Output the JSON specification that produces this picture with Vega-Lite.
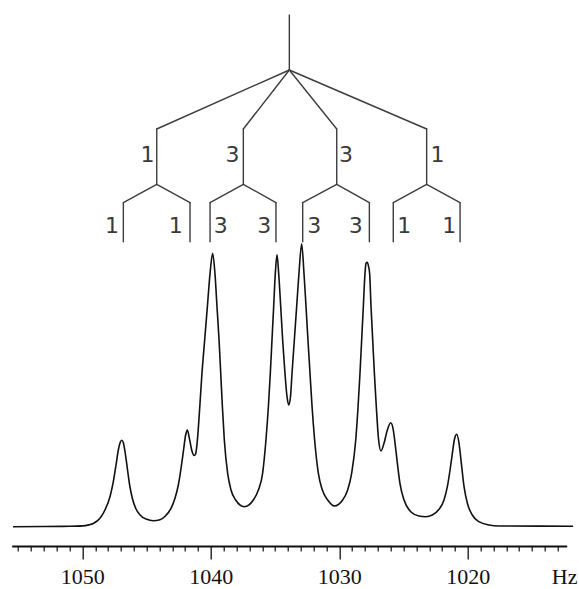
{
  "$schema": "https://vega.github.io/schema/vega-lite/v6.json",
  "width": 555,
  "height": 546,
  "autosize": {"type": "none"},
  "padding": {"left": 11.7, "top": 0, "right": 12.3, "bottom": 43},
  "background": "white",
  "config": {"view": {"stroke": null}},
  "datasets": {
    "spectrum": [
      {"hz": 1055.4, "i": 0}, {"hz": 1053, "i": 0.2}, {"hz": 1051, "i": 0.4}, {"hz": 1050, "i": 0.8},
      {"hz": 1049.5, "i": 1.8}, {"hz": 1049.15, "i": 3.2}, {"hz": 1048.63, "i": 8.4}, {"hz": 1048.24, "i": 16.7},
      {"hz": 1047.85, "i": 30}, {"hz": 1047.59, "i": 45}, {"hz": 1047.38, "i": 61.7}, {"hz": 1047.2, "i": 76.7},
      {"hz": 1047.05, "i": 84.5}, {"hz": 1046.93, "i": 86.5}, {"hz": 1046.82, "i": 84.5}, {"hz": 1046.68, "i": 75},
      {"hz": 1046.5, "i": 58.4}, {"hz": 1046.32, "i": 41.7}, {"hz": 1046.11, "i": 28.4}, {"hz": 1045.85, "i": 18.4},
      {"hz": 1045.51, "i": 11.7}, {"hz": 1044.99, "i": 7.4}, {"hz": 1044.48, "i": 6.0}, {"hz": 1043.96, "i": 7.0},
      {"hz": 1043.52, "i": 11.0}, {"hz": 1043.1, "i": 18.4}, {"hz": 1042.79, "i": 28.4}, {"hz": 1042.53, "i": 41.7},
      {"hz": 1042.32, "i": 58.4}, {"hz": 1042.14, "i": 75}, {"hz": 1041.96, "i": 91.7}, {"hz": 1041.83, "i": 96.7},
      {"hz": 1041.67, "i": 88.4}, {"hz": 1041.49, "i": 76.7}, {"hz": 1041.3, "i": 71.2}, {"hz": 1041.18, "i": 73},
      {"hz": 1041.05, "i": 86}, {"hz": 1040.87, "i": 118}, {"hz": 1040.69, "i": 153.4}, {"hz": 1040.48, "i": 186.7},
      {"hz": 1040.27, "i": 220}, {"hz": 1040.06, "i": 253.4}, {"hz": 1039.86, "i": 273.4}, {"hz": 1039.68, "i": 253.4},
      {"hz": 1039.52, "i": 220}, {"hz": 1039.36, "i": 186.7}, {"hz": 1039.23, "i": 153.4}, {"hz": 1039.1, "i": 120},
      {"hz": 1038.95, "i": 86.7}, {"hz": 1038.69, "i": 53.4}, {"hz": 1038.43, "i": 36.7}, {"hz": 1038.07, "i": 26.7},
      {"hz": 1037.39, "i": 20}, {"hz": 1036.69, "i": 26.7}, {"hz": 1036.3, "i": 36.7}, {"hz": 1035.97, "i": 53.4},
      {"hz": 1035.71, "i": 86.7}, {"hz": 1035.52, "i": 120}, {"hz": 1035.37, "i": 153.4}, {"hz": 1035.24, "i": 186.7},
      {"hz": 1035.11, "i": 220}, {"hz": 1034.98, "i": 253.4}, {"hz": 1034.85, "i": 272}, {"hz": 1034.72, "i": 253.4},
      {"hz": 1034.56, "i": 220}, {"hz": 1034.41, "i": 186.7}, {"hz": 1034.23, "i": 153.4}, {"hz": 1034.07, "i": 130},
      {"hz": 1033.94, "i": 121.7}, {"hz": 1033.8, "i": 130}, {"hz": 1033.68, "i": 153.4}, {"hz": 1033.5, "i": 186.7},
      {"hz": 1033.32, "i": 220}, {"hz": 1033.14, "i": 253.4}, {"hz": 1032.93, "i": 283}, {"hz": 1032.75, "i": 253.4},
      {"hz": 1032.59, "i": 220}, {"hz": 1032.44, "i": 186.7}, {"hz": 1032.28, "i": 153.4}, {"hz": 1032.12, "i": 120},
      {"hz": 1031.92, "i": 86.7}, {"hz": 1031.63, "i": 53.4}, {"hz": 1031.32, "i": 36.7}, {"hz": 1030.9, "i": 26.7},
      {"hz": 1030.39, "i": 20.7}, {"hz": 1029.74, "i": 26.7}, {"hz": 1029.35, "i": 36.7}, {"hz": 1029.04, "i": 53.4},
      {"hz": 1028.72, "i": 86.7}, {"hz": 1028.54, "i": 120}, {"hz": 1028.39, "i": 153.4}, {"hz": 1028.26, "i": 186.7},
      {"hz": 1028.13, "i": 220}, {"hz": 1028.0, "i": 253.4}, {"hz": 1027.92, "i": 263.5}, {"hz": 1027.82, "i": 264.4},
      {"hz": 1027.72, "i": 260}, {"hz": 1027.64, "i": 253.4}, {"hz": 1027.53, "i": 220}, {"hz": 1027.4, "i": 186.7},
      {"hz": 1027.27, "i": 153.4}, {"hz": 1027.12, "i": 120}, {"hz": 1026.94, "i": 86.7}, {"hz": 1026.76, "i": 75.7},
      {"hz": 1026.52, "i": 83.4}, {"hz": 1026.26, "i": 96.7}, {"hz": 1026.0, "i": 104}, {"hz": 1025.82, "i": 98.4},
      {"hz": 1025.66, "i": 83.4}, {"hz": 1025.48, "i": 63.4}, {"hz": 1025.28, "i": 43.4}, {"hz": 1024.96, "i": 26.7},
      {"hz": 1024.44, "i": 15}, {"hz": 1023.8, "i": 10.7}, {"hz": 1023.28, "i": 10}, {"hz": 1022.76, "i": 11.7},
      {"hz": 1022.24, "i": 17.4}, {"hz": 1021.85, "i": 26.7}, {"hz": 1021.59, "i": 40}, {"hz": 1021.38, "i": 56.7},
      {"hz": 1021.2, "i": 73.4}, {"hz": 1021.02, "i": 88.4}, {"hz": 1020.86, "i": 92.4}, {"hz": 1020.68, "i": 83.4},
      {"hz": 1020.5, "i": 63.4}, {"hz": 1020.29, "i": 40}, {"hz": 1020.03, "i": 23.4}, {"hz": 1019.65, "i": 11.7},
      {"hz": 1019.13, "i": 5}, {"hz": 1018.35, "i": 1.7}, {"hz": 1017.57, "i": 0.7}, {"hz": 1011.8, "i": 0.5}
    ],
    "tree": [
      {"x": 1033.89, "y": 511.7, "x2": 1033.89, "y2": 456.7},
      {"x": 1033.89, "y": 456.7, "x2": 1044.21, "y2": 397.7},
      {"x": 1033.89, "y": 456.7, "x2": 1037.47, "y2": 397.7},
      {"x": 1033.89, "y": 456.7, "x2": 1030.20, "y2": 397.7},
      {"x": 1033.89, "y": 456.7, "x2": 1023.20, "y2": 397.7},
      {"x": 1044.21, "y": 397.7, "x2": 1044.21, "y2": 342.4},
      {"x": 1037.47, "y": 397.7, "x2": 1037.47, "y2": 342.4},
      {"x": 1030.20, "y": 397.7, "x2": 1030.20, "y2": 342.4},
      {"x": 1023.20, "y": 397.7, "x2": 1023.20, "y2": 342.4},
      {"x": 1044.21, "y": 342.4, "x2": 1046.81, "y2": 324},
      {"x": 1044.21, "y": 342.4, "x2": 1041.62, "y2": 324},
      {"x": 1037.47, "y": 342.4, "x2": 1040.06, "y2": 324},
      {"x": 1037.47, "y": 342.4, "x2": 1034.93, "y2": 324},
      {"x": 1030.20, "y": 342.4, "x2": 1032.85, "y2": 324},
      {"x": 1030.20, "y": 342.4, "x2": 1027.66, "y2": 324},
      {"x": 1023.20, "y": 342.4, "x2": 1025.80, "y2": 324},
      {"x": 1023.20, "y": 342.4, "x2": 1020.60, "y2": 324},
      {"x": 1046.81, "y": 324, "x2": 1046.81, "y2": 285},
      {"x": 1041.62, "y": 324, "x2": 1041.62, "y2": 285},
      {"x": 1040.06, "y": 324, "x2": 1040.06, "y2": 285},
      {"x": 1034.93, "y": 324, "x2": 1034.93, "y2": 285},
      {"x": 1032.85, "y": 324, "x2": 1032.85, "y2": 285},
      {"x": 1027.66, "y": 324, "x2": 1027.66, "y2": 285},
      {"x": 1025.80, "y": 324, "x2": 1025.80, "y2": 285},
      {"x": 1020.60, "y": 324, "x2": 1020.60, "y2": 285}
    ],
    "labels": [
      {"x": 1044.93, "y": 371.7, "t": "1"},
      {"x": 1038.31, "y": 371.7, "t": "3"},
      {"x": 1029.48, "y": 371.7, "t": "3"},
      {"x": 1022.36, "y": 371.7, "t": "1"},
      {"x": 1047.69, "y": 300.7, "t": "1"},
      {"x": 1042.73, "y": 300.7, "t": "1"},
      {"x": 1039.22, "y": 300.7, "t": "3"},
      {"x": 1035.85, "y": 300.7, "t": "3"},
      {"x": 1031.95, "y": 300.7, "t": "3"},
      {"x": 1028.72, "y": 300.7, "t": "3"},
      {"x": 1024.95, "y": 300.7, "t": "1"},
      {"x": 1021.45, "y": 300.7, "t": "1"}
    ]
  },
  "layer": [
    {
      "data": {"name": "spectrum"},
      "mark": {"type": "line", "color": "#111111", "strokeWidth": 1.6, "interpolate": "monotone"},
      "encoding": {
        "x": {
          "field": "hz", "type": "quantitative",
          "scale": {"domain": [1055.5, 1012.3], "nice": false, "zero": false},
          "axis": {
            "orient": "bottom",
            "values": [1050, 1040, 1030, 1020],
            "format": "d",
            "grid": false,
            "domainColor": "#111111",
            "domainWidth": 1.8,
            "tickColor": "#111111",
            "tickWidth": 1.3,
            "tickSize": 13,
            "labelFont": "Liberation Serif",
            "labelFontSize": 22,
            "labelColor": "#111111",
            "labelBaseline": "alphabetic",
            "labelPadding": 24.5,
            "labelOverlap": false,
            "labelFlush": false,
            "title": "Hz",
            "titleFont": "Liberation Serif",
            "titleFontSize": 22,
            "titleFontWeight": "normal",
            "titleColor": "#111111",
            "titleX": 552.5,
            "titleY": 37.5,
            "titleAlign": "center",
            "titleBaseline": "alphabetic"
          }
        },
        "y": {
          "field": "i", "type": "quantitative",
          "scale": {"domain": [-19.3, 526.7], "nice": false, "zero": false},
          "axis": null
        }
      }
    },
    {
      "data": {"name": "tree"},
      "mark": {"type": "rule", "color": "#3d3d3d", "strokeWidth": 1.4, "strokeCap": "round"},
      "encoding": {
        "x": {
          "field": "x", "type": "quantitative",
          "axis": {
            "orient": "bottom",
            "values": [1055, 1054, 1053, 1052, 1051, 1049, 1048, 1047, 1046, 1045, 1044, 1043, 1042, 1041, 1039, 1038, 1037, 1036, 1035, 1034, 1033, 1032, 1031, 1029, 1028, 1027, 1026, 1025, 1024, 1023, 1022, 1021, 1019, 1018, 1017, 1016, 1015, 1014, 1013],
            "labels": false,
            "domain": false,
            "grid": false,
            "tickColor": "#111111",
            "tickWidth": 1.2,
            "tickSize": 5,
            "title": null
          }
        },
        "x2": {"field": "x2"},
        "y": {"field": "y", "type": "quantitative", "axis": null},
        "y2": {"field": "y2"}
      }
    },
    {
      "data": {"name": "labels"},
      "mark": {"type": "text", "font": "DejaVu Sans", "fontSize": 22, "color": "#3a3a3a", "align": "center", "baseline": "middle"},
      "encoding": {
        "x": {"field": "x", "type": "quantitative", "axis": null},
        "y": {"field": "y", "type": "quantitative", "axis": null},
        "text": {"field": "t"}
      }
    }
  ],
  "resolve": {"axis": {"x": "independent"}}
}
